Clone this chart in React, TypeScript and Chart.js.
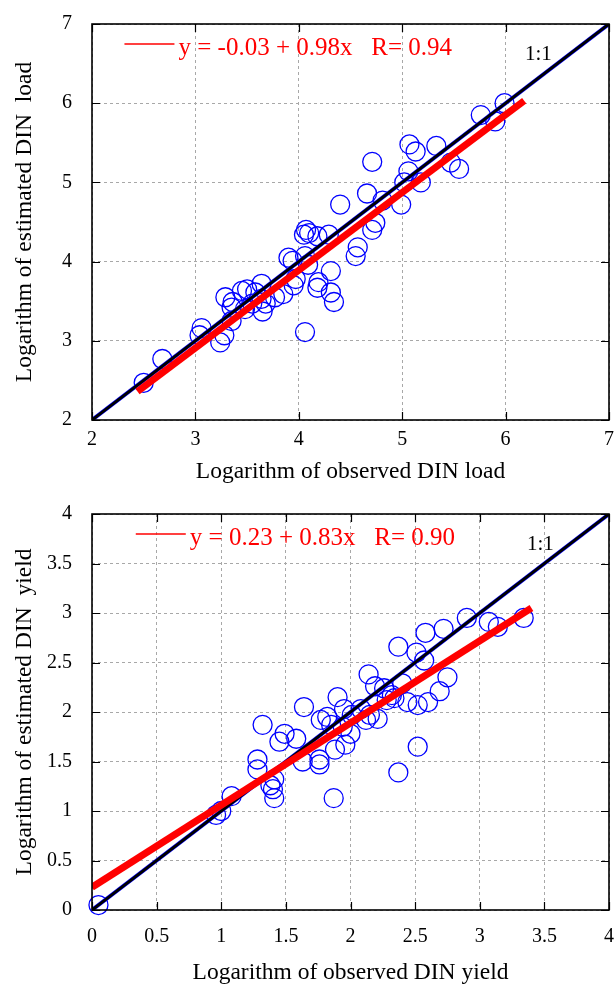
import React, { useEffect, useRef } from "react";
import { Chart, registerables } from "chart.js";

Chart.register(...registerables);

// ---------- Top panel: DIN load ----------
const loadObs = [
  2.5, 2.68, 3.04, 3.06, 3.24, 3.28, 3.35, 3.29, 3.36, 3.35, 3.45, 3.5, 3.48, 3.55, 3.58,
  3.64, 3.65, 3.64, 3.68, 3.77, 3.85, 3.9, 3.94, 3.97, 3.95, 4.06, 4.06, 4.09, 4.19, 4.18,
  4.31, 4.31, 4.34, 4.07, 4.1, 4.05, 4.18, 4.29, 4.4, 4.57, 4.55, 4.66, 4.71, 4.71, 4.74,
  4.81, 4.99, 5.02, 5.06, 5.07, 5.13, 5.18, 5.33, 5.47, 5.55, 5.76, 5.9, 5.99,
];
const loadEst = [
  2.47, 2.77, 3.07, 3.16, 2.98, 3.07, 3.25, 3.55, 3.49, 3.42, 3.63, 3.65, 3.4, 3.47, 3.61,
  3.72, 3.37, 3.53, 3.47, 3.55, 3.59, 4.05, 4.01, 3.78, 3.7, 4.07, 3.11, 3.96, 3.74, 3.67,
  3.88, 3.61, 3.49, 4.4, 4.36, 4.34, 4.32, 4.34, 4.72, 4.18, 4.07, 4.86, 5.26, 4.4, 4.49,
  4.77, 4.72, 5.0, 5.14, 5.48, 5.39, 5.0, 5.46, 5.25, 5.17, 5.85, 5.77, 6.0,
];
const loadFitX = [2.44, 6.18];
const loadFitY = [2.36, 6.03];
const loadOneToOne = [2, 7];
const loadEquation = "y = -0.03 + 0.98x   R= 0.94";
const loadXTitle = "Logarithm of observed DIN load";
const loadYTitle = "Logarithm of estimated DIN  load";

// ---------- Bottom panel: DIN yield ----------
const yieldObs = [
  0.05, 0.96, 1.0, 1.08, 1.41, 1.4, 1.41, 1.38, 1.28, 1.28, 1.32, 1.45, 1.49, 1.58, 1.63,
  1.64, 1.76, 1.76, 1.77, 1.82, 1.85, 1.87, 1.88, 1.9, 1.94, 1.95, 1.96, 2.0, 2.01, 2.08,
  2.12, 2.14, 2.15, 2.19, 2.21, 2.26, 2.28, 2.32, 2.34, 2.37, 2.37, 2.4, 2.44, 2.51, 2.52,
  2.52, 2.57, 2.58, 2.6, 2.69, 2.72, 2.75, 2.9, 3.07, 3.14, 3.34,
];
const yieldEst = [
  0.05, 0.96, 1.0, 1.15, 1.13, 1.22, 1.32, 1.26, 1.52, 1.42, 1.87, 1.7, 1.78, 1.73, 1.5,
  2.05, 1.52, 1.47, 1.92, 1.95, 1.87, 1.13, 1.62, 2.15, 1.85, 2.03, 1.67, 1.78, 1.97, 2.03,
  1.92, 2.38, 1.97, 2.26, 1.93, 2.24, 2.12, 2.17, 2.14, 2.66, 1.39, 2.29, 2.1, 2.6, 2.07,
  1.65, 2.52, 2.8, 2.1, 2.21, 2.84, 2.35, 2.95, 2.91, 2.86, 2.95,
];
const yieldFitX = [0, 3.4];
const yieldFitY = [0.23, 3.05];
const yieldOneToOne = [0, 4];
const yieldEquation = "y = 0.23 + 0.83x   R= 0.90";
const yieldXTitle = "Logarithm of observed DIN yield";
const yieldYTitle = "Logarithm of estimated DIN  yield";

const oneToOneLabel = "1:1";

const SERIF = '"Liberation Serif", "Times New Roman", serif';

const gnuplotFrame = {
  id: "gnuplotFrame",
  afterDatasetsDraw(chart: any, _args: any, opts: any) {
    const { ctx, chartArea } = chart;
    const { left, right, top, bottom } = chartArea;
    const xs = chart.scales.x;
    const ys = chart.scales.y;
    ctx.save();
    // inward ticks on all four sides
    ctx.strokeStyle = "#000";
    ctx.lineWidth = 1.2;
    ctx.setLineDash([]);
    ctx.beginPath();
    const tl = 8;
    xs.ticks.forEach((t: any) => {
      const px = Math.round(xs.getPixelForValue(t.value)) + 0.5;
      ctx.moveTo(px, bottom);
      ctx.lineTo(px, bottom - tl);
      ctx.moveTo(px, top);
      ctx.lineTo(px, top + tl);
    });
    ys.ticks.forEach((t: any) => {
      const py = Math.round(ys.getPixelForValue(t.value)) + 0.5;
      ctx.moveTo(left, py);
      ctx.lineTo(left + tl, py);
      ctx.moveTo(right, py);
      ctx.lineTo(right - tl, py);
    });
    ctx.stroke();
    // frame
    ctx.lineWidth = 1.6;
    ctx.strokeRect(left, top, right - left, bottom - top);

    // key
    ctx.font = `25px ${SERIF}`;
    ctx.fillStyle = "#ff0000";
    ctx.textBaseline = "alphabetic";
    ctx.textAlign = "right";
    ctx.fillText(opts.equation, opts.keyRight, opts.keyBaseline);
    const w = ctx.measureText(opts.equation).width;
    const startX = opts.keyRight - w;
    ctx.strokeStyle = "#ff0000";
    ctx.lineWidth = 1.5;
    ctx.beginPath();
    ctx.moveTo(startX - 54, opts.keyBaseline - 11);
    ctx.lineTo(startX - 4, opts.keyBaseline - 11);
    ctx.stroke();

    // 1:1 label
    ctx.font = `21px ${SERIF}`;
    ctx.fillStyle = "#000";
    ctx.textAlign = "left";
    ctx.fillText(oneToOneLabel, opts.oneX, opts.oneBaseline);
    ctx.restore();
  },
};

function buildConfig(p: any) {
  const tickFont = { family: SERIF, size: 20 };
  const titleFont = { family: SERIF, size: 23.5, lineHeight: 1.0 };
  const grid = { color: "#a8a8a8", lineWidth: 1, drawTicks: false };
  const border = { display: false, dash: [3, 3] };
  return {
    type: "scatter" as const,
    data: {
      datasets: [
        {
          type: "line" as const,
          label: "fit",
          data: p.fitX.map((x: number, i: number) => ({ x, y: p.fitY[i] })),
          borderColor: "#ff0000",
          borderWidth: 7,
          borderCapStyle: "butt",
          pointRadius: 0,
          showLine: true,
          order: 1,
        },
        {
          type: "line" as const,
          label: "1:1",
          data: p.diag.map((v: number) => ({ x: v, y: v })),
          borderColor: "#000000",
          borderWidth: 2.8,
          pointRadius: 0,
          showLine: true,
          order: 2,
        },
        {
          type: "line" as const,
          label: "1:1 blue",
          data: p.diag.map((v: number) => ({ x: v, y: v })),
          borderColor: "#0000ff",
          borderWidth: 3.8,
          pointRadius: 0,
          showLine: true,
          order: 3,
        },
        {
          label: "sites",
          data: p.obs.map((x: number, i: number) => ({ x, y: p.est[i] })),
          pointStyle: "circle",
          pointRadius: 9.5,
          pointBorderWidth: 1.3,
          pointBorderColor: "#0000ff",
          pointBackgroundColor: "rgba(0,0,0,0)",
          showLine: false,
          clip: false,
          order: 4,
        },
      ],
    },
    options: {
      responsive: false,
      animation: false,
      devicePixelRatio: 1,
      layout: { autoPadding: false, padding: { top: 24, right: 5, left: 0, bottom: 0 } },
      plugins: {
        legend: { display: false },
        tooltip: { enabled: false },
        gnuplotFrame: {
          equation: p.equation,
          keyRight: p.keyRight,
          keyBaseline: 55,
          oneX: p.oneX,
          oneBaseline: 60,
        },
      },
      scales: {
        x: {
          type: "linear",
          min: p.min,
          max: p.max,
          ticks: { stepSize: p.step, font: tickFont, color: "#000", padding: p.xTickPad, maxRotation: 0, callback: (v: any) => String(v) },
          grid,
          border,
          title: { display: true, text: p.xTitle, font: titleFont, color: "#000", padding: { top: 0, bottom: p.xTitlePadBottom } },
          afterFit: (s: any) => { s.height = p.axisHeight; s.paddingLeft = 0; s.paddingRight = 0; },
        },
        y: {
          type: "linear",
          min: p.min,
          max: p.max,
          ticks: { stepSize: p.step, font: tickFont, color: "#000", padding: 20, callback: (v: any) => String(v) },
          grid,
          border,
          title: { display: true, text: p.yTitle, font: titleFont, color: "#000", padding: { top: 13, bottom: 0 } },
          afterFit: (s: any) => { s.width = 92; s.paddingTop = 0; s.paddingBottom = 0; },
        },
      },
    },
    plugins: [gnuplotFrame],
  };
}

function Panel(props: { cfg: any; height: number; top: number }) {
  const ref = useRef<HTMLCanvasElement | null>(null);
  useEffect(() => {
    if (!ref.current) return;
    const chart = new Chart(ref.current, props.cfg);
    return () => chart.destroy();
  }, []);
  return (
    <canvas ref={ref} width={614} height={props.height}
      style={{ position: "absolute", left: 0, top: props.top, width: 614, height: props.height, display: "block" }} />
  );
}

export default function App() {
  const topCfg = buildConfig({
    obs: loadObs, est: loadEst, fitX: loadFitX, fitY: loadFitY, diag: loadOneToOne,
    min: 2, max: 7, step: 1, xTitle: loadXTitle, yTitle: loadYTitle, equation: loadEquation,
    axisHeight: 70, xTickPad: 8, xTitlePadBottom: 6, keyRight: 452, oneX: 525,
  });
  const bottomCfg = buildConfig({
    obs: yieldObs, est: yieldEst, fitX: yieldFitX, fitY: yieldFitY, diag: yieldOneToOne,
    min: 0, max: 4, step: 0.5, xTitle: yieldXTitle, yTitle: yieldYTitle, equation: yieldEquation,
    axisHeight: 75, xTickPad: 15, xTitlePadBottom: 0, keyRight: 455, oneX: 527,
  });
  return (
    <div style={{ position: "absolute", left: 0, top: 0, width: 614, height: 985, background: "#fff", overflow: "hidden" }}>
      <Panel cfg={topCfg} height={490} top={0} />
      <Panel cfg={bottomCfg} height={495} top={490} />
    </div>
  );
}
